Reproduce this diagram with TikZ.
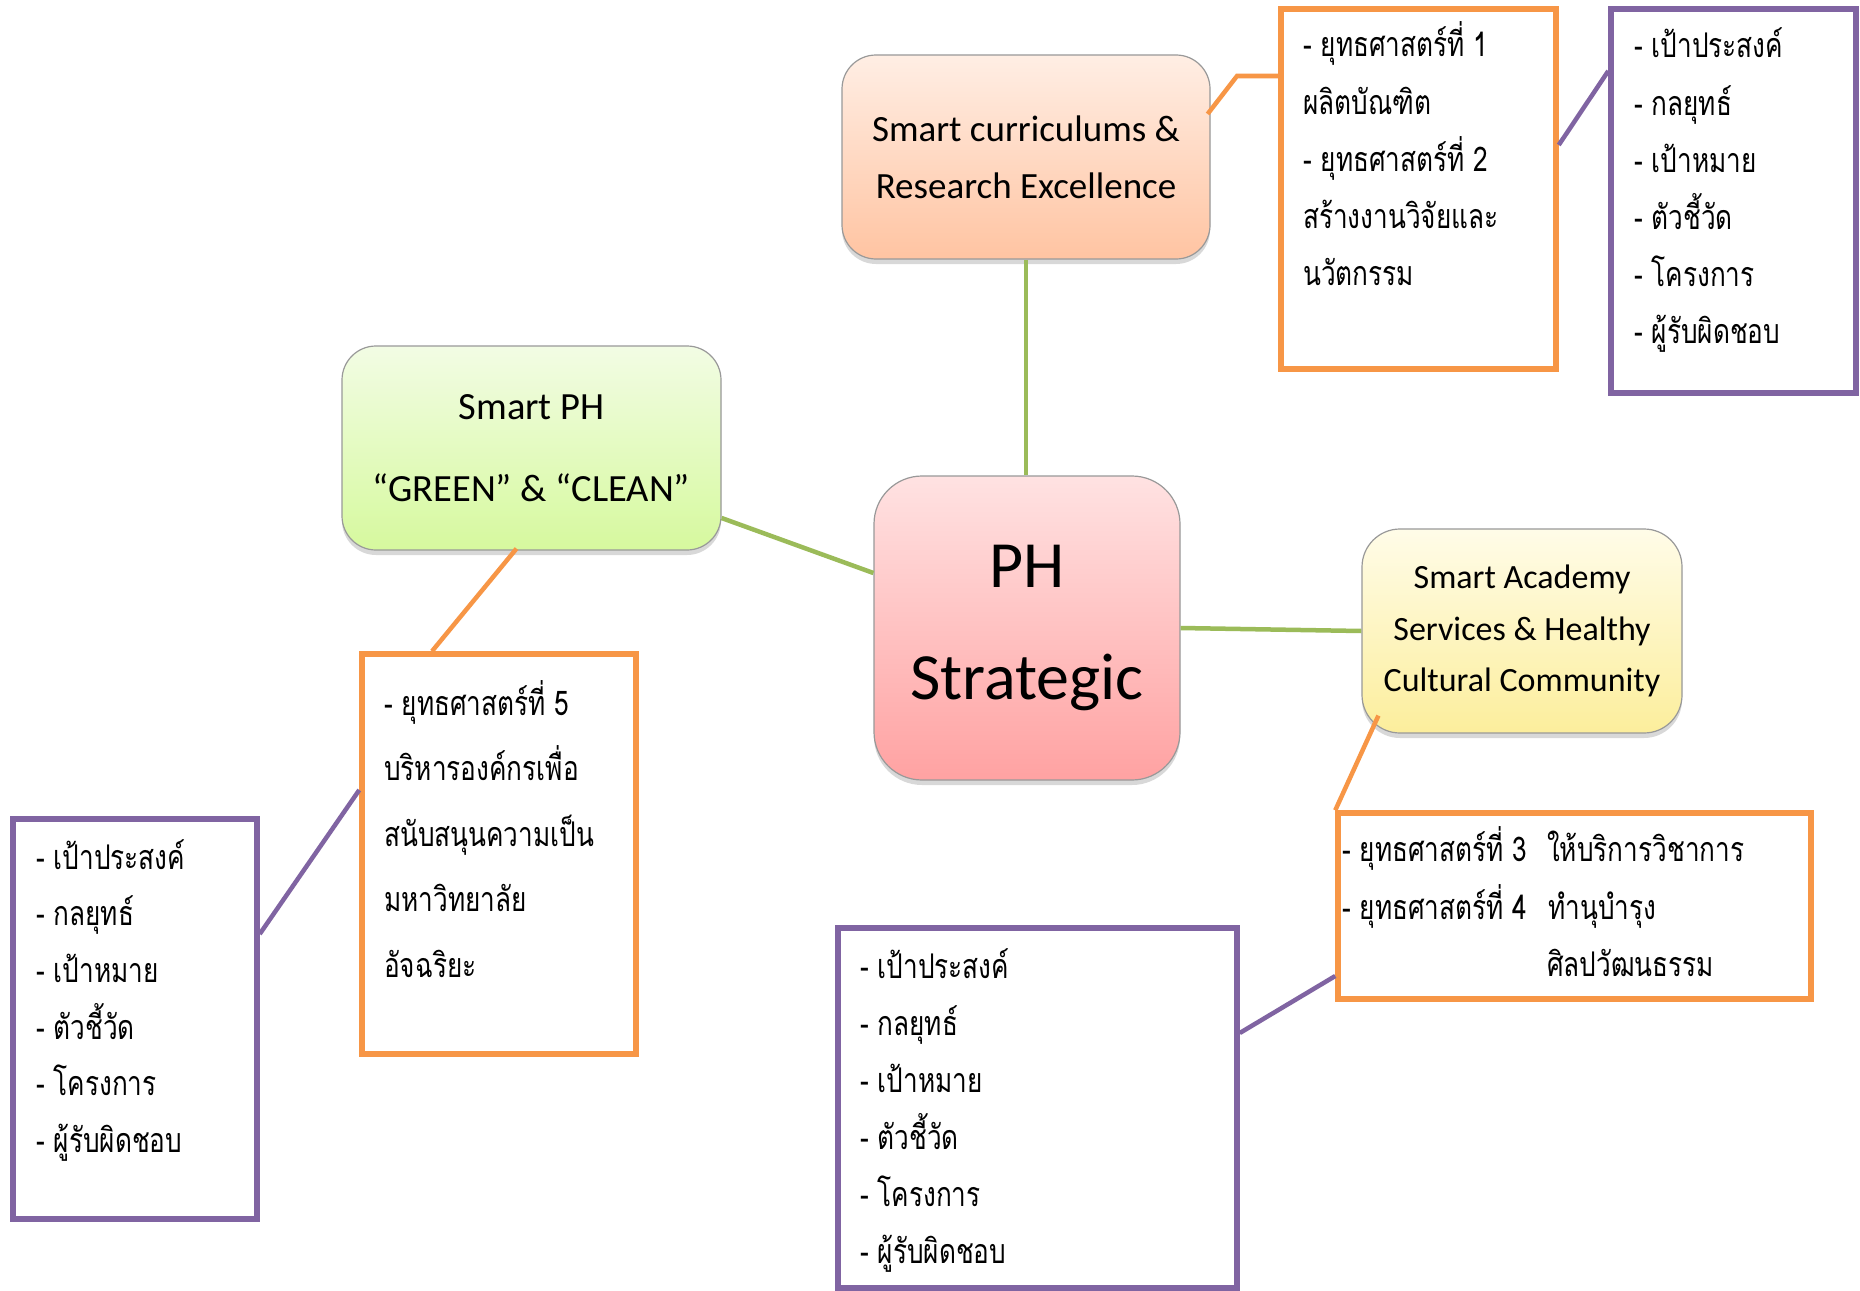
\documentclass[tikz,border=0pt]{standalone}
\usepackage{fontspec}
\setmainfont{Carlito}
\newfontfamily\thaifont[Script=Thai,FakeStretch=0.77]{Loma}
\usetikzlibrary{shadows,calc}
\definecolor{orn}{HTML}{F79646}
\definecolor{pur}{HTML}{8064A2}
\definecolor{grn}{HTML}{9BBB59}
\definecolor{ctT}{HTML}{FFEEE4}
\definecolor{ctB}{HTML}{FFC4A2}
\definecolor{cgT}{HTML}{F2FCE4}
\definecolor{cgB}{HTML}{D6F99E}
\definecolor{ccT}{HTML}{FFE2E2}
\definecolor{ccB}{HTML}{FFA2A2}
\definecolor{cyT}{HTML}{FFFCE8}
\definecolor{cyB}{HTML}{FCEE9C}
\begin{document}
\begin{tikzpicture}[x=1pt,y=-1pt,
  cbox/.style={rounded corners=34pt, draw=black!40, line width=1.2pt,
    drop shadow={opacity=0.3,shadow xshift=0pt,shadow yshift=-5pt},
    align=center, inner sep=0pt},
  obox/.style={draw=orn, line width=5.5pt, inner sep=0pt},
  pbox/.style={draw=pur, line width=5.5pt, inner sep=0pt},
  th/.style={font={\thaifont\fontsize{34}{40}\selectfont}, anchor=base west, inner sep=0pt},
  gl/.style={draw=grn, line width=4.5pt},
  ol/.style={draw=orn, line width=4.5pt},
  pl/.style={draw=pur, line width=4.5pt}]
\useasboundingbox (0,0) rectangle (1860,1290);
\fill[white] (0,0) rectangle (1860,1290);

% coloured boxes
\node[cbox, top color=ctT, bottom color=ctB, minimum width=368pt, minimum height=204pt,
  font={\fontsize{37}{57}\selectfont}] (ct) at (1026,157) {Smart curriculums \&\\Research Excellence};
\node[cbox, top color=cgT, bottom color=cgB, minimum width=379pt, minimum height=204pt,
  font={\fontsize{38.5}{82}\selectfont}] (cg) at (531.5,448) {Smart PH\\“GREEN” \& “CLEAN”};
\node[cbox, rounded corners=48pt, top color=ccT, bottom color=ccB, minimum width=306pt, minimum height=304pt,
  font={\fontsize{66}{112}\selectfont}] (cc) at (1027,628) {PH\\Strategic};
\node[cbox, rounded corners=38pt, top color=cyT, bottom color=cyB, minimum width=320pt, minimum height=204pt,
  font={\fontsize{34}{51.5}\selectfont}] (cy) at (1522,631) {Smart Academy\\Services \& Healthy\\Cultural Community};

% orange / purple boxes
\node[obox, minimum width=275pt, minimum height=359.5pt] (o1) at (1418.5,189) {};
\node[pbox, minimum width=245pt, minimum height=383.5pt] (p1) at (1733.5,201) {};
\node[obox, minimum width=274pt, minimum height=400pt] (o2) at (499,854) {};
\node[pbox, minimum width=244pt, minimum height=400pt] (p2) at (135,1019) {};
\node[obox, minimum width=473pt, minimum height=186pt] (o3) at (1574.5,906) {};
\node[pbox, minimum width=399pt, minimum height=360pt] (p3) at (1037.5,1108) {};

% texts
\foreach \t [count=\i from 0] in {- ยุทธศาสตร์ที่ 1, ผลิตบัณฑิต, - ยุทธศาสตร์ที่ 2, สร้างงานวิจัยและ, นวัตกรรม}
  \node[th] (o1t\i) at (1303,57+57*\i) {\t};
\foreach \t [count=\i from 0] in {- เป้าประสงค์, - กลยุทธ์, - เป้าหมาย, - ตัวชี้วัด, - โครงการ, - ผู้รับผิดชอบ}
  \node[th] (p1t\i) at (1634,58+57*\i) {\t};
\foreach \t [count=\i from 0] in {- ยุทธศาสตร์ที่ 5, บริหารองค์กรเพื่อ, สนับสนุนความเป็น, มหาวิทยาลัย, อัจฉริยะ}
  \node[th] (o2t\i) at (384,715+65.5*\i) {\t};
\foreach \t [count=\i from 0] in {- เป้าประสงค์, - กลยุทธ์, - เป้าหมาย, - ตัวชี้วัด, - โครงการ, - ผู้รับผิดชอบ}
  \node[th] (p2t\i) at (36,869+56.7*\i) {\t};
\foreach \t [count=\i from 0] in {- เป้าประสงค์, - กลยุทธ์, - เป้าหมาย, - ตัวชี้วัด, - โครงการ, - ผู้รับผิดชอบ}
  \node[th] (p3t\i) at (860,978+57*\i) {\t};
\node[th] (o3a) at (1342,861) {- ยุทธศาสตร์ที่ 3};
\node[th] (o3b) at (1547,861) {ให้บริการวิชาการ};
\node[th] (o3c) at (1342,919) {- ยุทธศาสตร์ที่ 4};
\node[th] (o3d) at (1548,919) {ทำนุบำรุง};
\node[th] (o3e) at (1547,976) {ศิลปวัฒนธรรม};

% connectors
\draw[gl] (ct.south) -- (ct.south |- cc.north);
\draw[gl] ($(cg.east)+(0,70)$) -- ($(cc.west)+(0,-55)$);
\draw[gl] (cc.east) -- (cy.west);
\coordinate (k1) at (1237,76);
\draw[ol] ($(ct.east)+(-3,-43)$) -- (k1) -- (o1.west |- k1);
\draw[pl] ($(o1.east)+(0,-44)$) -- ($(p1.west)+(0,-130)$);
\draw[ol] ($(cg.south)+(-15,-2)$) -- ($(o2.north)+(-67,0)$);
\draw[pl] ($(o2.west)+(0,-64)$) -- ($(p2.east)+(0,-85)$);
\draw[ol] ($(cy.south west)+(17,-18)$) -- (o3.north west);
\draw[pl] ($(o3.west)+(0,70)$) -- ($(p3.east)+(0,-75)$);
\end{tikzpicture}
\end{document}
